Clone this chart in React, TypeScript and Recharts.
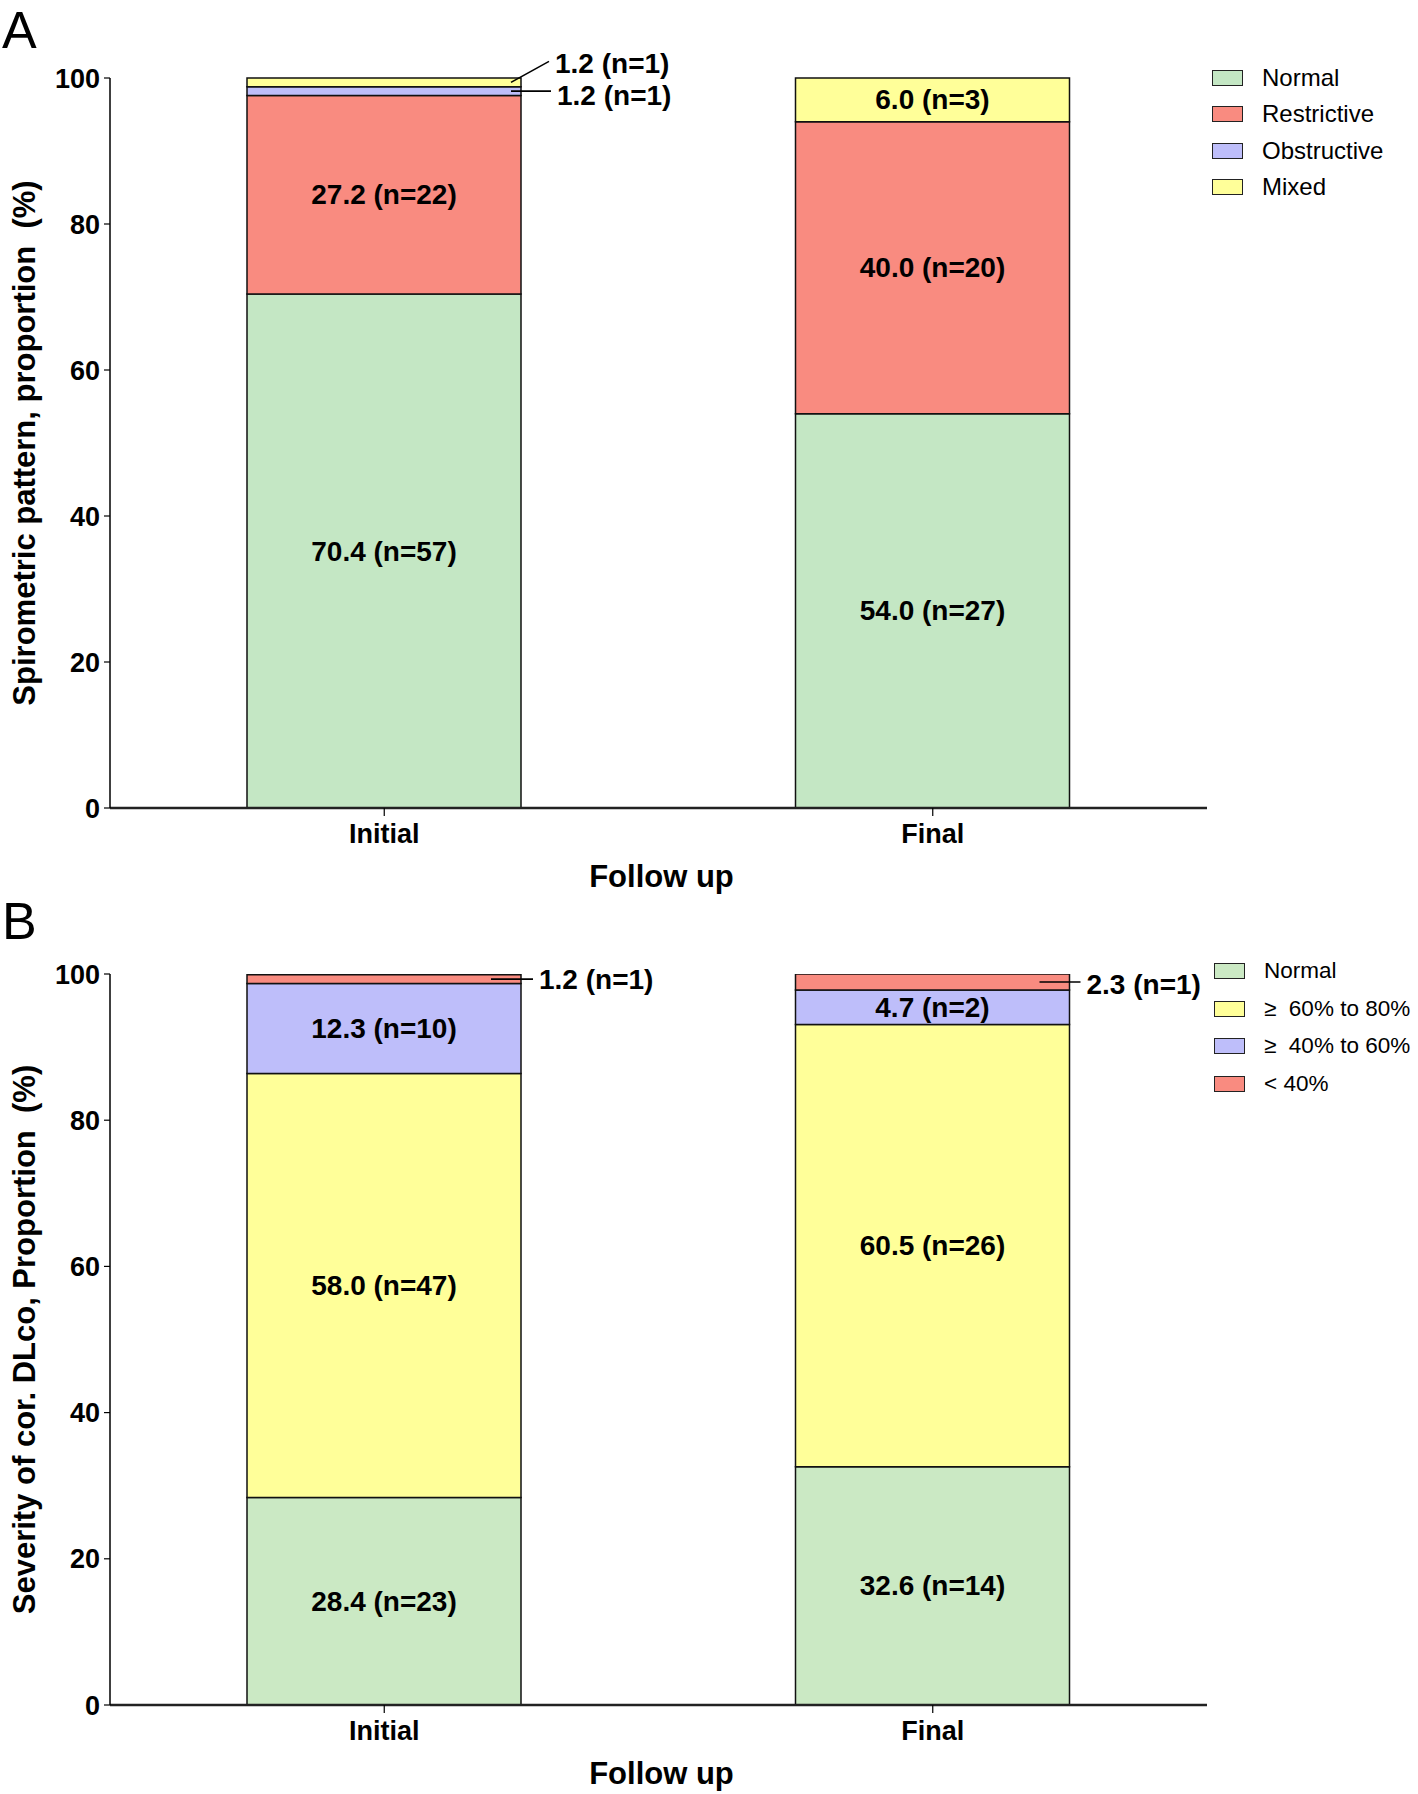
import { Bar, BarChart, LabelList, XAxis, YAxis } from "recharts"

const categories = ["Initial", "Final"]
const yTicks = [0, 20, 40, 60, 80, 100]

// Panel A — spirometric pattern (%)
const spiroNormal = [70.4, 54.0]
const spiroRestrictive = [27.2, 40.0]
const spiroObstructive = [1.2, 0]
const spiroMixed = [1.2, 6.0]
const spiroNormalN = [57, 27]
const spiroRestrictiveN = [22, 20]
const spiroObstructiveN = [1, 0]
const spiroMixedN = [1, 3]

// Panel B — severity of corrected DLco (%)
const dlcoNormal = [28.4, 32.6]
const dlco60to80 = [58.0, 60.5]
const dlco40to60 = [12.3, 4.7]
const dlcoBelow40 = [1.2, 2.3]
const dlcoNormalN = [23, 14]
const dlco60to80N = [47, 26]
const dlco40to60N = [10, 2]
const dlcoBelow40N = [1, 1]

const FONT = "'Liberation Sans', Arial, Helvetica, sans-serif"
const GREEN_A = "#C4E7C4"
const GREEN_B = "#CBE9C4"
const SALMON = "#F98B80"
const LAVENDER = "#BEBEFA"
const YELLOW = "#FFFF99"

const makeLabel = (v: number, n: number) => (n > 0 ? `${v.toFixed(1)} (n=${n})` : "")

const spiroData = categories.map((name, i) => ({
  name,
  normal: spiroNormal[i],
  restrictive: spiroRestrictive[i],
  obstructive: spiroObstructive[i],
  mixed: spiroMixed[i],
  normalLabel: makeLabel(spiroNormal[i], spiroNormalN[i]),
  restrictiveLabel: makeLabel(spiroRestrictive[i], spiroRestrictiveN[i]),
  obstructiveLabel: makeLabel(spiroObstructive[i], spiroObstructiveN[i]),
  mixedLabel: makeLabel(spiroMixed[i], spiroMixedN[i]),
}))

const dlcoData = categories.map((name, i) => ({
  name,
  normal: dlcoNormal[i],
  mid: dlco60to80[i],
  low: dlco40to60[i],
  severe: dlcoBelow40[i],
  normalLabel: makeLabel(dlcoNormal[i], dlcoNormalN[i]),
  midLabel: makeLabel(dlco60to80[i], dlco60to80N[i]),
  lowLabel: makeLabel(dlco40to60[i], dlco40to60N[i]),
  severeLabel: makeLabel(dlcoBelow40[i], dlcoBelow40N[i]),
}))

type Callout = { inset: number; reach: number; rise: number; textDy: number }

// callout leader lines for the thin segments, keyed by bar index
function segmentLabel(callouts: Record<number, Callout>) {
  return (props: any) => {
    const { x, y, width, height, value } = props
    if (!value) return null
    let index = props.index
    if (index === undefined) index = x < 700 ? 0 : 1
    const cx = Number(x) + Number(width) / 2
    const cy = Number(y) + Number(height) / 2
    const c = callouts[index]
    if (c) {
      const x0 = Number(x) + Number(width) - c.inset
      const x1 = Number(x) + Number(width) + c.reach
      return (
        <g>
          <line x1={x0} y1={cy} x2={x1} y2={cy + c.rise} stroke="#000" strokeWidth={1.6} />
          <text
            x={x1 + 6}
            y={cy + c.rise + c.textDy}
            dominantBaseline="central"
            fontFamily={FONT}
            fontWeight="bold"
            fontSize={28}
            fill="#000"
          >
            {value}
          </text>
        </g>
      )
    }
    return (
      <text
        x={cx}
        y={cy}
        textAnchor="middle"
        dominantBaseline="central"
        fontFamily={FONT}
        fontWeight="bold"
        fontSize={28}
        fill="#000"
      >
        {value}
      </text>
    )
  }
}

const legendA = [
  { label: "Normal", color: GREEN_A },
  { label: "Restrictive", color: SALMON },
  { label: "Obstructive", color: LAVENDER },
  { label: "Mixed", color: YELLOW },
]

const legendB = [
  { label: "Normal", color: GREEN_B },
  { label: "≥  60% to 80%", color: YELLOW },
  { label: "≥  40% to 60%", color: LAVENDER },
  { label: "< 40%", color: SALMON },
]

function LegendList({
  items,
  rowHeight,
  fontSize,
  left,
  top,
}: {
  items: { label: string; color: string }[]
  rowHeight: number
  fontSize: number
  left: number
  top: number
}) {
  return (
    <div style={{ position: "absolute", left, top, fontFamily: FONT, fontSize, color: "#000" }}>
      {items.map((item) => (
        <div key={item.label} style={{ display: "flex", alignItems: "center", height: rowHeight }}>
          <span
            style={{
              width: 29,
              height: 14,
              background: item.color,
              border: "1.5px solid #222",
              marginRight: 19,
              flexShrink: 0,
            }}
          />
          <span style={{ whiteSpace: "pre" }}>{item.label}</span>
        </div>
      ))}
    </div>
  )
}

const tickStyle = { fill: "#000", fontSize: 27, fontWeight: "bold", fontFamily: FONT }

function yTitle(title: string) {
  return (props: any) => {
    const vb = props.viewBox
    const cy = vb.y + vb.height / 2
    return (
      <text
        x={24}
        y={cy}
        transform={`rotate(-90, 24, ${cy})`}
        textAnchor="middle"
        dominantBaseline="central"
        fontFamily={FONT}
        fontWeight="bold"
        fontSize={31}
        fill="#000"
        style={{ whiteSpace: "pre" }}
      >
        {title}
      </text>
    )
  }
}

function xTitle(props: any) {
  const vb = props.viewBox
  return (
    <text
      x={vb.x + vb.width / 2 + 3}
      y={vb.y + 68}
      textAnchor="middle"
      dominantBaseline="central"
      fontFamily={FONT}
      fontWeight="bold"
      fontSize={31}
      fill="#000"
    >
      Follow up
    </text>
  )
}

const panelLetter = { position: "absolute" as const, left: 2, fontFamily: FONT, fontSize: 52, color: "#000" }

export default function App() {
  return (
    <div style={{ position: "absolute", left: 0, top: 0, width: 1418, height: 1794, background: "#fff" }}>
      <div style={{ ...panelLetter, top: 0 }}>A</div>
      <div style={{ ...panelLetter, top: 891 }}>B</div>

      <div style={{ position: "absolute", left: 0, top: 0 }}>
        <BarChart
          width={1418}
          height={897}
          data={spiroData}
          margin={{ top: 78, right: 211, bottom: 0, left: 0 }}
          barSize={274}
        >
          <XAxis
            dataKey="name"
            height={89}
            tickLine={{ stroke: "#000", strokeWidth: 1.2 }}
            tickSize={8}
            tickMargin={8}
            axisLine={{ stroke: "#222", strokeWidth: 2.5 }}
            tick={tickStyle}
            label={{ content: xTitle }}
          />
          <YAxis
            width={110}
            domain={[0, 100]}
            ticks={yTicks}
            interval={0}
            tickSize={6}
            tickMargin={4}
            axisLine={{ stroke: "#000", strokeWidth: 1.5 }}
            tickLine={{ stroke: "#000", strokeWidth: 1.2 }}
            tick={tickStyle}
            label={{ content: yTitle("Spirometric pattern, proportion  (%)") }}
          />
          <Bar dataKey="normal" stackId="a" fill={GREEN_A} stroke="#111" strokeWidth={1.5} isAnimationActive={false}>
            <LabelList dataKey="normalLabel" content={segmentLabel({})} />
          </Bar>
          <Bar dataKey="restrictive" stackId="a" fill={SALMON} stroke="#111" strokeWidth={1.5} isAnimationActive={false}>
            <LabelList dataKey="restrictiveLabel" content={segmentLabel({})} />
          </Bar>
          <Bar dataKey="obstructive" stackId="a" fill={LAVENDER} stroke="#111" strokeWidth={1.5} isAnimationActive={false}>
            <LabelList
              dataKey="obstructiveLabel"
              content={segmentLabel({ 0: { inset: 10, reach: 30, rise: 0, textDy: 4 } })}
            />
          </Bar>
          <Bar dataKey="mixed" stackId="a" fill={YELLOW} stroke="#111" strokeWidth={1.5} isAnimationActive={false}>
            <LabelList
              dataKey="mixedLabel"
              content={segmentLabel({ 0: { inset: 10, reach: 28, rise: -21, textDy: 2 } })}
            />
          </Bar>
        </BarChart>
        <LegendList items={legendA} rowHeight={36.3} fontSize={24} left={1212} top={60} />
      </div>

      <div style={{ position: "absolute", left: 0, top: 897, width: 1418, height: 897 }}>
        <BarChart
          width={1418}
          height={897}
          data={dlcoData}
          margin={{ top: 77, right: 211, bottom: 0, left: 0 }}
          barSize={274}
        >
          <XAxis
            dataKey="name"
            height={89}
            tickLine={{ stroke: "#000", strokeWidth: 1.2 }}
            tickSize={8}
            tickMargin={8}
            axisLine={{ stroke: "#222", strokeWidth: 2.5 }}
            tick={tickStyle}
            label={{ content: xTitle }}
          />
          <YAxis
            width={110}
            domain={[0, 100]}
            ticks={yTicks}
            interval={0}
            allowDataOverflow
            tickSize={6}
            tickMargin={4}
            axisLine={{ stroke: "#000", strokeWidth: 1.5 }}
            tickLine={{ stroke: "#000", strokeWidth: 1.2 }}
            tick={tickStyle}
            label={{ content: yTitle("Severity of cor. DLco, Proportion  (%)") }}
          />
          <Bar dataKey="normal" stackId="b" fill={GREEN_B} stroke="#111" strokeWidth={1.5} isAnimationActive={false}>
            <LabelList dataKey="normalLabel" content={segmentLabel({})} />
          </Bar>
          <Bar dataKey="mid" stackId="b" fill={YELLOW} stroke="#111" strokeWidth={1.5} isAnimationActive={false}>
            <LabelList dataKey="midLabel" content={segmentLabel({})} />
          </Bar>
          <Bar dataKey="low" stackId="b" fill={LAVENDER} stroke="#111" strokeWidth={1.5} isAnimationActive={false}>
            <LabelList dataKey="lowLabel" content={segmentLabel({})} />
          </Bar>
          <Bar dataKey="severe" stackId="b" fill={SALMON} stroke="#111" strokeWidth={1.5} isAnimationActive={false}>
            <LabelList
              dataKey="severeLabel"
              content={segmentLabel({
                0: { inset: 30, reach: 12, rise: 0, textDy: 0 },
                1: { inset: 30, reach: 11, rise: 0, textDy: 2 },
              })}
            />
          </Bar>
        </BarChart>
        <LegendList items={legendB} rowHeight={37.7} fontSize={22.5} left={1214} top={55} />
      </div>
    </div>
  )
}
